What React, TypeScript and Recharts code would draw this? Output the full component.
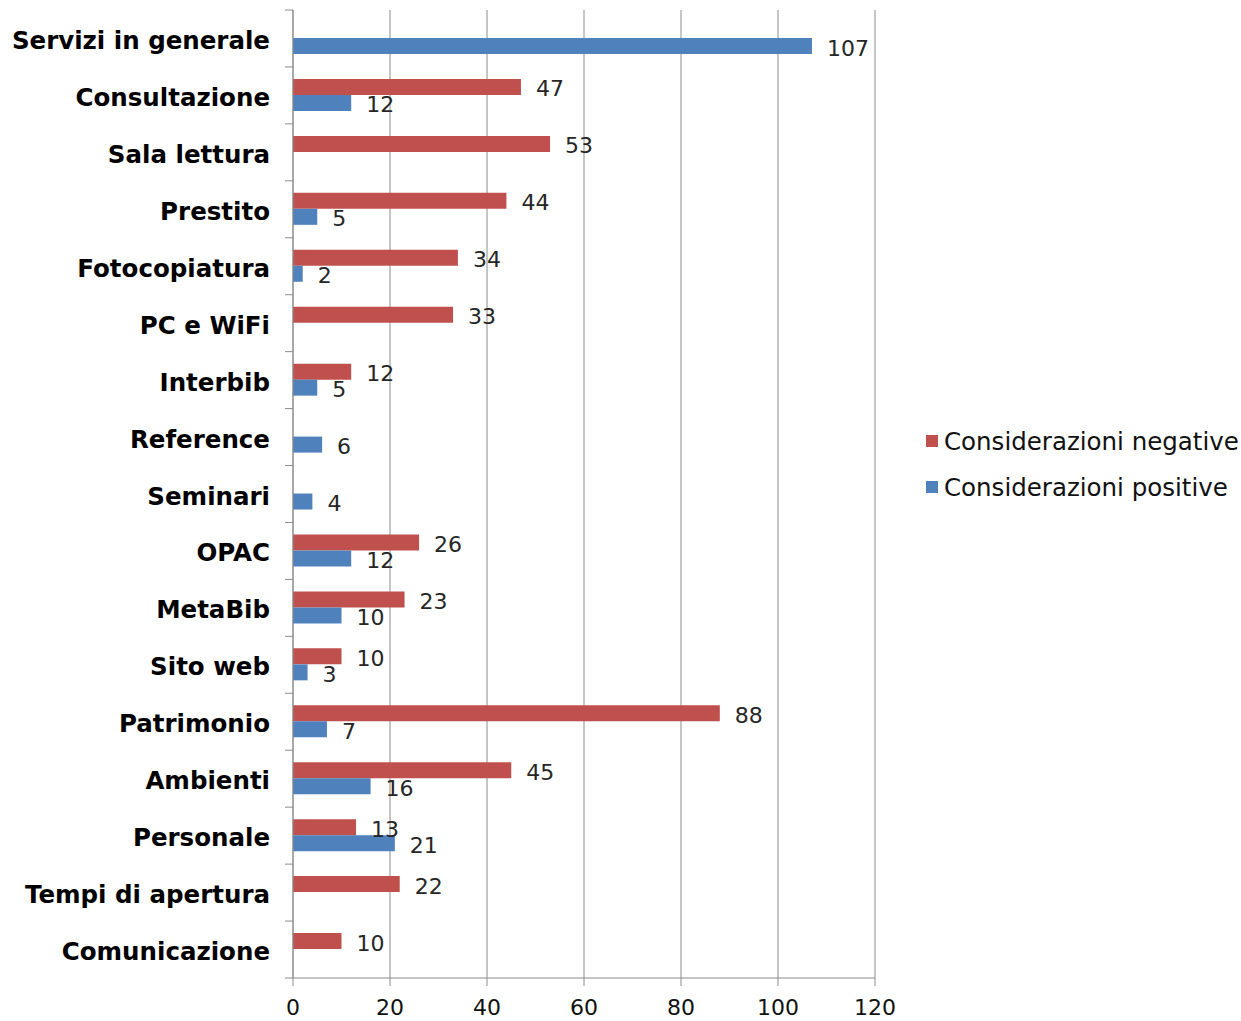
import React from 'react';
import {
  BarChart,
  Bar,
  XAxis,
  YAxis,
  CartesianGrid,
  Legend,
  LabelList,
} from 'recharts';

const categories = [
  'Servizi in generale',
  'Consultazione',
  'Sala lettura',
  'Prestito',
  'Fotocopiatura',
  'PC e WiFi',
  'Interbib',
  'Reference',
  'Seminari',
  'OPAC',
  'MetaBib',
  'Sito web',
  'Patrimonio',
  'Ambienti',
  'Personale',
  'Tempi di apertura',
  'Comunicazione',
];

const negative: (number | null)[] = [null, 47, 53, 44, 34, 33, 12, null, null, 26, 23, 10, 88, 45, 13, 22, 10];
const positive: (number | null)[] = [107, 12, null, 5, 2, null, 5, 6, 4, 12, 10, 3, 7, 16, 21, null, null];

const xTicks = [0, 20, 40, 60, 80, 100, 120];

const data = categories.map((name, i) => ({
  name,
  negative: negative[i],
  positive: positive[i],
}));

const FONT = '"DejaVu Sans", Verdana, sans-serif';
const RED = '#C0504D';
const BLUE = '#4F81BD';
const GRID = '#8C8C8C';

const ValueLabel = (props: any) => {
  const { x, y, width, height, value } = props;
  if (value === null || value === undefined) return null;
  return (
    <text
      x={Number(x) + Number(width) + 15}
      y={Number(y) + Number(height) / 2 + 2}
      fill="#262626"
      fontSize={22}
      fontFamily={FONT}
      textAnchor="start"
      dominantBaseline="central"
    >
      {value}
    </text>
  );
};

// Category label plus a tick mark on the band edges (top edge of every band, bottom edge of the last one)
const CategoryTick = (props: any) => {
  const { x, y, payload, index } = props;
  const half = payload && payload.offset ? payload.offset : 0;
  const axisX = Number(x) + 8;
  const isLast = index === categories.length - 1;
  return (
    <g>
      <line x1={axisX - 8} x2={axisX} y1={y - half} y2={y - half} stroke={GRID} strokeWidth={1} />
      {isLast && <line x1={axisX - 8} x2={axisX} y1={y + half} y2={y + half} stroke={GRID} strokeWidth={1} />}
      <text
        x={axisX - 23}
        y={y + 2}
        textAnchor="end"
        dominantBaseline="central"
        fill="#000"
        fontSize={24.5}
        fontWeight="bold"
        fontFamily={FONT}
      >
        {payload.value}
      </text>
    </g>
  );
};

const LegendContent = () => (
  <div style={{ fontFamily: FONT, fontSize: 24.5, color: '#111' }}>
    {[
      { label: 'Considerazioni negative', color: RED },
      { label: 'Considerazioni positive', color: BLUE },
    ].map((item) => (
      <div key={item.label} style={{ display: 'flex', alignItems: 'center', height: 46, whiteSpace: 'nowrap' }}>
        <span style={{ display: 'inline-block', width: 12, height: 12, background: item.color, marginRight: 6 }} />
        <span>{item.label}</span>
      </div>
    ))}
  </div>
);

export default function App() {
  return (
    <div style={{ position: 'absolute', left: 0, top: 0, width: 1241, height: 1021 }}>
      <BarChart
        width={1241}
        height={1021}
        data={data}
        layout="vertical"
        margin={{ top: 10, right: 366, bottom: 0, left: 0 }}
        barSize={16}
        barGap={0}
      >
        <CartesianGrid horizontal={false} vertical={true} stroke={GRID} strokeWidth={1} />
        <XAxis
          type="number"
          domain={[0, 120]}
          ticks={xTicks}
          interval={0}
          height={43}
          tickSize={8}
          tickMargin={13}
          axisLine={{ stroke: GRID }}
          tickLine={{ stroke: GRID }}
          tick={{ fill: '#111', fontSize: 22, fontFamily: FONT }}
        />
        <YAxis
          type="category"
          dataKey="name"
          width={293}
          interval={0}
          axisLine={{ stroke: GRID }}
          tickLine={false}
          tickSize={8}
          tickMargin={0}
          tick={<CategoryTick />}
        />
        <Legend
          layout="horizontal"
          verticalAlign="middle"
          align="center"
          content={<LegendContent />}
          wrapperStyle={{ position: 'absolute', left: 926, top: 418, width: 315, height: 92 }}
        />
        <Bar dataKey="negative" fill={RED} isAnimationActive={false} name="Considerazioni negative">
          <LabelList dataKey="negative" content={<ValueLabel />} />
        </Bar>
        <Bar dataKey="positive" fill={BLUE} isAnimationActive={false} name="Considerazioni positive">
          <LabelList dataKey="positive" content={<ValueLabel />} />
        </Bar>
      </BarChart>
    </div>
  );
}
